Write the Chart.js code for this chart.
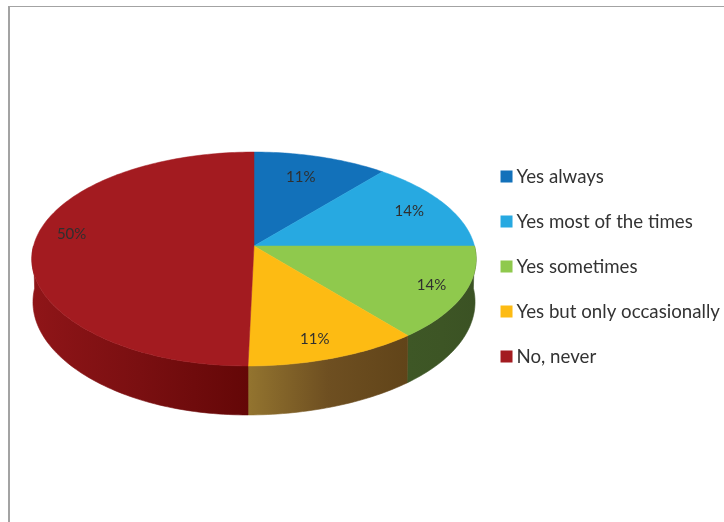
<!DOCTYPE html>
<html>
<head>
<meta charset="utf-8">
<style>
  html, body { margin: 0; padding: 0; background: #fff; }
  #wrap { position: relative; width: 724px; height: 522px; overflow: hidden; }
  #frame { position: absolute; left: 8px; top: 6px; right: -4px; bottom: -4px;
           border-left: 2px solid #a3a3a3; border-top: 1.5px solid #a3a3a3; }
  canvas { position: absolute; left: 0; top: 0; }
</style>
<script src="https://cdn.jsdelivr.net/npm/chart.js@4"></script>
</head>
<body>
<div id="wrap">
  <div id="frame"></div>
  <canvas id="chart" width="724" height="522"></canvas>
</div>
<script>
// Survey answers and their shares in percent
const categories = ['Yes always', 'Yes most of the times', 'Yes sometimes', 'Yes but only occasionally', 'No, never'];
const shares = [11, 14, 14, 11, 50];

// Slice colours: top face, then the left, middle and right of each wall's shading
const faceColors = ['#1271ba', '#27a9e1', '#8fc94d', '#fdbb13', '#a31b20'];
const wallLeftColors = ['#0c4f82', '#1a7aa3', '#3e5726', '#93742f', '#8f1518'];
const wallMidColors = ['#0c4f82', '#1a7aa3', '#3d5525', '#6e4f21', '#7a0f11'];
const wallRightColors = ['#0c4f82', '#1a7aa3', '#3b5224', '#614419', '#640707'];

// Pixel nudges of the percent labels from their default radial position
const labelNudgeX = [-8, 2, 11, -5, -6];
const labelNudgeY = [4, 0, 1.5, 6, -12];

// Perspective of the tilted disc
const cam = { cx: 254, apexY: 246, rx: 220.5, ky: 75.5, persp: -0.1215, lean: 6 };
// The lower ring of the disc relative to the upper ellipse
const ring = { midY: 259, lowMidY: 302, sx: 0.995, sy: 113 / 107 };

function project(ux, uy) {
  const d = 1 + cam.persp * uy;
  return { x: cam.cx + cam.rx * ux / d, y: (cam.apexY + cam.ky * uy) / d };
}
function rimPoint(angle) {
  const ux = Math.cos(angle), uy = Math.sin(angle);
  const p = project(ux, uy);
  if (uy > 0) p.x -= cam.lean * Math.pow(uy, 6);
  return p;
}
function lowerPoint(angle) {
  const p = rimPoint(angle);
  return {
    x: cam.cx + (p.x - cam.cx) * ring.sx,
    y: ring.lowMidY + (p.y - ring.midY) * ring.sy
  };
}
function sweep(a, b) {
  const n = Math.max(2, Math.ceil(Math.abs(b - a) / 0.02));
  const out = [];
  for (let i = 0; i <= n; i++) out.push(a + (b - a) * i / n);
  return out;
}

// Replaces the flat arcs with an extruded, tilted disc built from the arc angles
const tiltedDisc = {
  id: 'tiltedDisc',
  beforeDatasetsDraw(chart) {
    const ctx = chart.ctx;
    const arcs = chart.getDatasetMeta(0).data;

    // Walls: only the near half of the disc is visible
    arcs.forEach((arc, i) => {
      const from = Math.max(arc.startAngle, 0);
      const to = Math.min(arc.endAngle, Math.PI);
      if (to <= from) return;
      const angles = sweep(from, to);
      const upper = angles.map(rimPoint);
      const lower = angles.map(lowerPoint).reverse();
      const xs = upper.concat(lower).map(p => p.x);
      const grad = ctx.createLinearGradient(Math.min(...xs), 0, Math.max(...xs), 0);
      grad.addColorStop(0, wallLeftColors[i]);
      grad.addColorStop(0.5, wallMidColors[i]);
      grad.addColorStop(1, wallRightColors[i]);
      ctx.beginPath();
      upper.concat(lower).forEach((p, k) => k ? ctx.lineTo(p.x, p.y) : ctx.moveTo(p.x, p.y));
      ctx.closePath();
      ctx.fillStyle = grad;
      ctx.strokeStyle = grad;
      ctx.lineWidth = 0.6;
      ctx.fill();
      ctx.stroke();
    });

    // Top face
    arcs.forEach((arc, i) => {
      const apex = project(0, 0);
      ctx.beginPath();
      ctx.moveTo(apex.x, apex.y);
      sweep(arc.startAngle, arc.endAngle).map(rimPoint).forEach(p => ctx.lineTo(p.x, p.y));
      ctx.closePath();
      ctx.fillStyle = faceColors[i];
      ctx.strokeStyle = faceColors[i];
      ctx.lineWidth = 0.5;
      ctx.fill();
      ctx.stroke();
    });

    // Percent labels
    ctx.font = '15px Lato';
    ctx.fillStyle = '#2f2f2f';
    ctx.textAlign = 'center';
    ctx.textBaseline = 'middle';
    arcs.forEach((arc, i) => {
      const mid = (arc.startAngle + arc.endAngle) / 2;
      const p = project(0.8 * Math.cos(mid), 0.8 * Math.sin(mid));
      ctx.fillText(shares[i] + '%', p.x + labelNudgeX[i], p.y + labelNudgeY[i]);
    });
    return false;
  }
};

new Chart(document.getElementById('chart'), {
  type: 'pie',
  data: {
    labels: categories,
    datasets: [{ data: shares, backgroundColor: faceColors, borderWidth: 0 }]
  },
  options: {
    responsive: false,
    animation: false,
    layout: { padding: { top: 11, right: -6, bottom: 0, left: 0 } },
    plugins: {
      tooltip: { enabled: false },
      legend: {
        position: 'right',
        labels: {
          boxWidth: 1.3,
          boxHeight: 1.3,
          padding: 26.3,
          color: '#333333',
          font: { family: 'Lato', size: 18.7 },
          generateLabels: chart => categories.map((text, i) => ({
            text,
            index: i,
            fillStyle: faceColors[i],
            strokeStyle: faceColors[i],
            lineWidth: 10.7,
            fontColor: '#333333',
            hidden: false
          }))
        }
      }
    }
  },
  plugins: [tiltedDisc]
});
</script>
</body>
</html>
